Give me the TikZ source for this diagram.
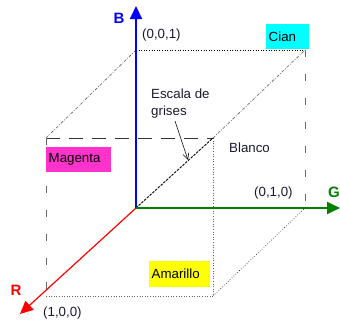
\documentclass[tikz,border=0pt]{standalone}
\usepackage{fontspec}
\setmainfont{Liberation Sans}
\usetikzlibrary{arrows.meta}
\definecolor{mag}{RGB}{255,51,204}
\definecolor{cyn}{RGB}{0,255,255}
\definecolor{yel}{RGB}{255,255,0}
\definecolor{gaxis}{RGB}{0,128,0}
\definecolor{lab}{RGB}{25,25,45}
\begin{document}
\begin{tikzpicture}[x=1pt,y=-1pt,
  txt/.style={font=\fontsize{13.3}{15}\selectfont, text=lab, inner sep=0pt},
  axlab/.style={font=\fontsize{15}{16}\selectfont\bfseries, inner sep=0pt},
  colbox/.style={font=\fontsize{13.3}{15}\selectfont, anchor=north west, inner xsep=2.5pt, inner ysep=0pt, align=left},
  edgedot/.style={gray!80!black, line width=0.6pt, dotted},
  edgedash/.style={gray!80!black, line width=0.6pt, dash pattern=on 7pt off 17pt},
  edgelong/.style={black!80, line width=0.5pt, dash pattern=on 14pt off 9pt},
  diagdd/.style={gray!70!black, line width=0.6pt, dash pattern=on 3pt off 1.5pt on 0.8pt off 1.5pt},
  axis/.style={line width=1.8pt},
  tip/.style={-{Triangle[length=13pt,width=12pt]}}
]
\useasboundingbox (0,0) rectangle (340,324);
% corners
\coordinate (O) at (136,208);
\coordinate (Z) at (136,50);
\coordinate (Cy) at (305,50);
\coordinate (Gp) at (305,208);
\coordinate (X) at (46,296);
\coordinate (Yc) at (213,296);
\coordinate (M) at (46,138);
\coordinate (W) at (213,138);
\coordinate (Btip) at (136,6);
\coordinate (Gtip) at (340,208);
\coordinate (Rtip) at (20,314);
% cube edges
\draw[black, line width=0.6pt, dotted] (Z) -- (Cy);
\draw[edgedash] (Cy) -- (Gp);
\draw[edgelong] (M) -- (W);
\draw[edgedash] (M) -- (X);
\draw[edgedot] (X) -- (Yc);
\draw[gray!80!black, line width=0.6pt, dash pattern=on 12pt off 4pt, dotted] (W) -- (Yc);
\draw[black, line width=0.6pt, dotted] (Yc) -- (Gp);
\draw[diagdd] (Z) -- (M);
\draw[diagdd] (W) -- (Cy);
\draw[black, line width=0.9pt, dash pattern=on 2.5pt off 1.2pt] (O) -- (W);
% axes
\draw[axis, blue, tip] (O) -- (Btip);
\draw[axis, gaxis, tip] (O) -- (Gtip);
\draw[line width=1.2pt, red, tip] (O) -- (Rtip);
% axis labels
\node[axlab, text=blue] (Blab) at (119,18) {B};
\node[axlab, text=gaxis, anchor=east] (Glab) at (340,192) {G};
\node[axlab, text=red] (Rlab) at (16,290) {R};
% coordinate labels
\node[txt, anchor=west] (l001) at (142,35) {(0,0,1)};
\node[txt, anchor=west] (l010) at (254,193) {(0,1,0)};
\node[txt, anchor=west] (l100) at (43,313) {(1,0,0)};
% colour boxes
\node[colbox, fill=cyn, minimum height=25pt, text width=38pt] (cian) at (266,24) {Cian};
\node[colbox, fill=mag, minimum height=25pt, text width=60pt] (magenta) at (46,147) {Magenta};
\node[colbox, fill=yel, minimum height=26pt, text width=56pt] (amarillo) at (149,261) {Amarillo};
\node[txt, anchor=west] (blanco) at (229,148) {Blanco};
% gray scale
\node[txt, anchor=north west, align=left, font=\fontsize{13.3}{17}\selectfont] (esc) at (151,89) {Escala de\\grises};
\coordinate (gs) at (188,160);
\draw[black, line width=0.6pt, -{Straight Barb[length=6pt,width=6pt]}] (175,121) -- (gs);
\end{tikzpicture}
\end{document}
